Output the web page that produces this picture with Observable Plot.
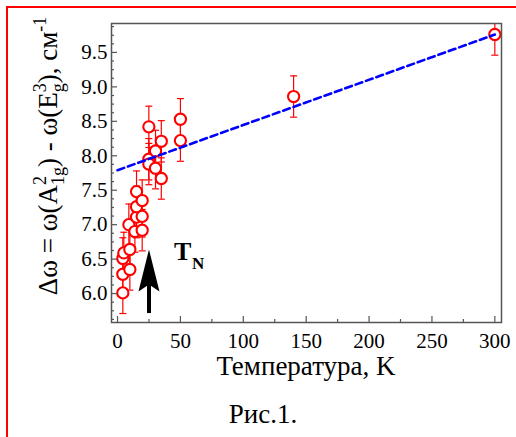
<!DOCTYPE html>
<html><head><meta charset="utf-8">
<script src="https://cdn.jsdelivr.net/npm/d3@7"></script>
<script src="https://cdn.jsdelivr.net/npm/@observablehq/plot@0.6"></script>
<style>
body{margin:0;background:#fff;}
#wrap{position:relative;width:516px;height:437px;overflow:hidden;}
#border{position:absolute;left:6px;top:6px;width:700px;height:700px;border-left:2px solid #ff0000;border-top:2px solid #ff0000;pointer-events:none;}
#chart svg text, #chart svg tspan{font-family:'Liberation Serif','Times New Roman',serif !important;}
</style></head><body>
<div id="wrap"><div id="chart"></div><div id="border"></div></div>
<script>
// Data
const temperature = [4.2, 4.2, 4.2, 5.0, 9.8, 9.8, 9.0, 13.8, 15.1, 15.1, 15.1, 19.6, 19.6, 19.6, 24.9, 24.9, 24.9, 30.2, 30.2, 34.8, 34.8, 50, 50, 140, 300];
const deltaOmega  = [6.01, 6.28, 6.51, 6.59, 6.35, 6.64, 7.00, 6.90, 7.11, 7.26, 7.48, 6.92, 7.12, 7.35, 8.42, 7.95, 7.88, 8.07, 7.82, 8.21, 7.67, 8.53, 8.22, 8.86, 9.76];
const errorBar    = [0.3, 0.3, 0.3, 0.3, 0.3, 0.3, 0.3, 0.3, 0.3, 0.3, 0.3, 0.3, 0.3, 0.3, 0.3, 0.3, 0.3, 0.3, 0.3, 0.3, 0.3, 0.3, 0.3, 0.3, 0.3];
const fitT  = [0, 300];
const fitDw = [7.79, 9.76];
const arrowT = [25], arrowFrom = [5.71], arrowShaftTop = [6.25], arrowTip = [6.64];
const labelT = [44.8], labelY = [6.49], labelSubT = [59.3], labelSubY = [6.35];
const xTicksMajor = [0, 50, 100, 150, 200, 250, 300];
const xTicksMinor = [25, 75, 125, 175, 225, 275];
const yTicksMajor = [6.0, 6.5, 7.0, 7.5, 8.0, 8.5, 9.0, 9.5];
const yTicksMinor = [5.625, 5.75, 5.875, 6.125, 6.25, 6.375, 6.625, 6.75, 6.875, 7.125, 7.25, 7.375, 7.625, 7.75, 7.875, 8.125, 8.25, 8.375, 8.625, 8.75, 8.875, 9.125, 9.25, 9.375, 9.625, 9.75, 9.875];
const xLabel = "Температура, K";
const caption = "Рис.1.";

const data = temperature.map((t, i) => ({t, dw: deltaOmega[i], lo: deltaOmega[i] - errorBar[i], hi: deltaOmega[i] + errorBar[i]}));
const fit = fitT.map((t, i) => ({t, dw: fitDw[i]}));
const arrow = arrowT.map((t, i) => ({t, from: arrowFrom[i], top: arrowShaftTop[i], tip: arrowTip[i]}));
const labels = [{t: labelT[0], y: labelY[0], s: "T", size: 26}, {t: labelSubT[0], y: labelSubY[0], s: "N", size: 17}];

const capSymbol = {draw(ctx) { ctx.moveTo(-3.5, 0); ctx.lineTo(3.5, 0); }};
const headSymbol = {draw(ctx) { ctx.moveTo(0, 0); ctx.lineTo(10.5, 42); ctx.lineTo(0, 35); ctx.lineTo(-10.5, 42); ctx.closePath(); }};
const serifStack = "'Liberation Serif','Times New Roman',serif";
const gray = "#555";

const plot = Plot.plot({
  width: 516, height: 437,
  marginLeft: 111, marginRight: 15, marginTop: 23, marginBottom: 115,
  x: {domain: [-4.8, 305.3]},
  y: {domain: [5.58, 9.92]},
  style: {fontFamily: serifStack, background: "transparent", color: "black"},
  marks: [
    Plot.ruleX(data, {x: "t", y1: "lo", y2: "hi", stroke: "#ff0000", strokeWidth: 1.2, clip: true}),
    Plot.dot(data, {x: "t", y: "lo", symbol: capSymbol, stroke: "#ff0000", strokeWidth: 1.2, fill: "none", clip: true}),
    Plot.dot(data, {x: "t", y: "hi", symbol: capSymbol, stroke: "#ff0000", strokeWidth: 1.2, fill: "none", clip: true}),
    Plot.dot(data, {x: "t", y: "dw", r: 5.6, stroke: "#ff0000", strokeWidth: 2.1, fill: "white"}),
    Plot.line(fit, {x: "t", y: "dw", stroke: "#0000ff", strokeWidth: 2.6, strokeDasharray: "7,4"}),
    Plot.ruleX(arrow, {x: "t", y1: "from", y2: "top", stroke: "black", strokeWidth: 4}),
    Plot.dot(arrow, {x: "t", y: "tip", symbol: headSymbol, fill: "black", stroke: "none"}),
    Plot.text(labels, {x: "t", y: "y", text: "s", textAnchor: "start", lineAnchor: "bottom", fontSize: d => d.size, fontWeight: "bold", fill: "black"}),
    Plot.frame({stroke: gray, strokeWidth: 1.5}),
    Plot.axisX(xTicksMajor, {anchor: "bottom", tickSize: 6, dy: -6, fill: "none", stroke: gray, strokeWidth: 1.2, label: null}),
    Plot.axisX(xTicksMinor, {anchor: "bottom", tickSize: 3, dy: -3, fill: "none", stroke: gray, strokeWidth: 1.2, label: null}),
    Plot.axisX(xTicksMajor, {anchor: "bottom", tickSize: 0, tickPadding: 11, fontSize: 21, fill: "black", label: null}),
    Plot.axisY(yTicksMajor, {anchor: "left", tickSize: 6, dx: 6, fill: "none", stroke: gray, strokeWidth: 1.2, label: null}),
    Plot.axisY(yTicksMinor, {anchor: "left", tickSize: 3, dx: 3, fill: "none", stroke: gray, strokeWidth: 1.2, label: null}),
    Plot.axisY(yTicksMajor, {anchor: "left", tickSize: 0, tickPadding: 4, fontSize: 21, fill: "black", label: null, tickFormat: d => d.toFixed(1)})
  ]
});

const svg = d3.select(plot);
svg.attr("font-family", serifStack);
const xr = plot.scale("x").range, yr = plot.scale("y").range;
svg.append("text")
  .attr("x", (xr[0] + xr[1]) / 2).attr("y", yr[0] + 53)
  .attr("text-anchor", "middle").attr("fill", "black")
  .attr("font-size", 27)
  .text(xLabel);

const yl = svg.append("text")
  .attr("transform", `translate(57,156) rotate(-90)`)
  .attr("text-anchor", "middle").attr("fill", "black")
  .attr("font-size", 27);
const parts = [
  {t: "Δω = ω(A", dy: 0},
  {t: "2", small: true, dy: -11},
  {t: "1g", small: true, dx: -9, dy: 18},
  {t: ") - ω(E", dy: -7},
  {t: "3", small: true, dy: -11},
  {t: "g", small: true, dx: -9, dy: 18},
  {t: "), см", dy: -7},
  {t: "-1", small: true, dy: -11}
];
for (const p of parts) {
  const ts = yl.append("tspan").text(p.t);
  if (p.dy) ts.attr("dy", p.dy);
  if (p.dx) ts.attr("dx", p.dx);
  ts.attr("font-size", p.small ? 18 : 27);
}

svg.append("text")
  .attr("x", 263).attr("y", 423)
  .attr("text-anchor", "middle").attr("fill", "black")
  .attr("font-size", 27)
  .text(caption);

document.getElementById("chart").appendChild(plot);
</script>
</body></html>
